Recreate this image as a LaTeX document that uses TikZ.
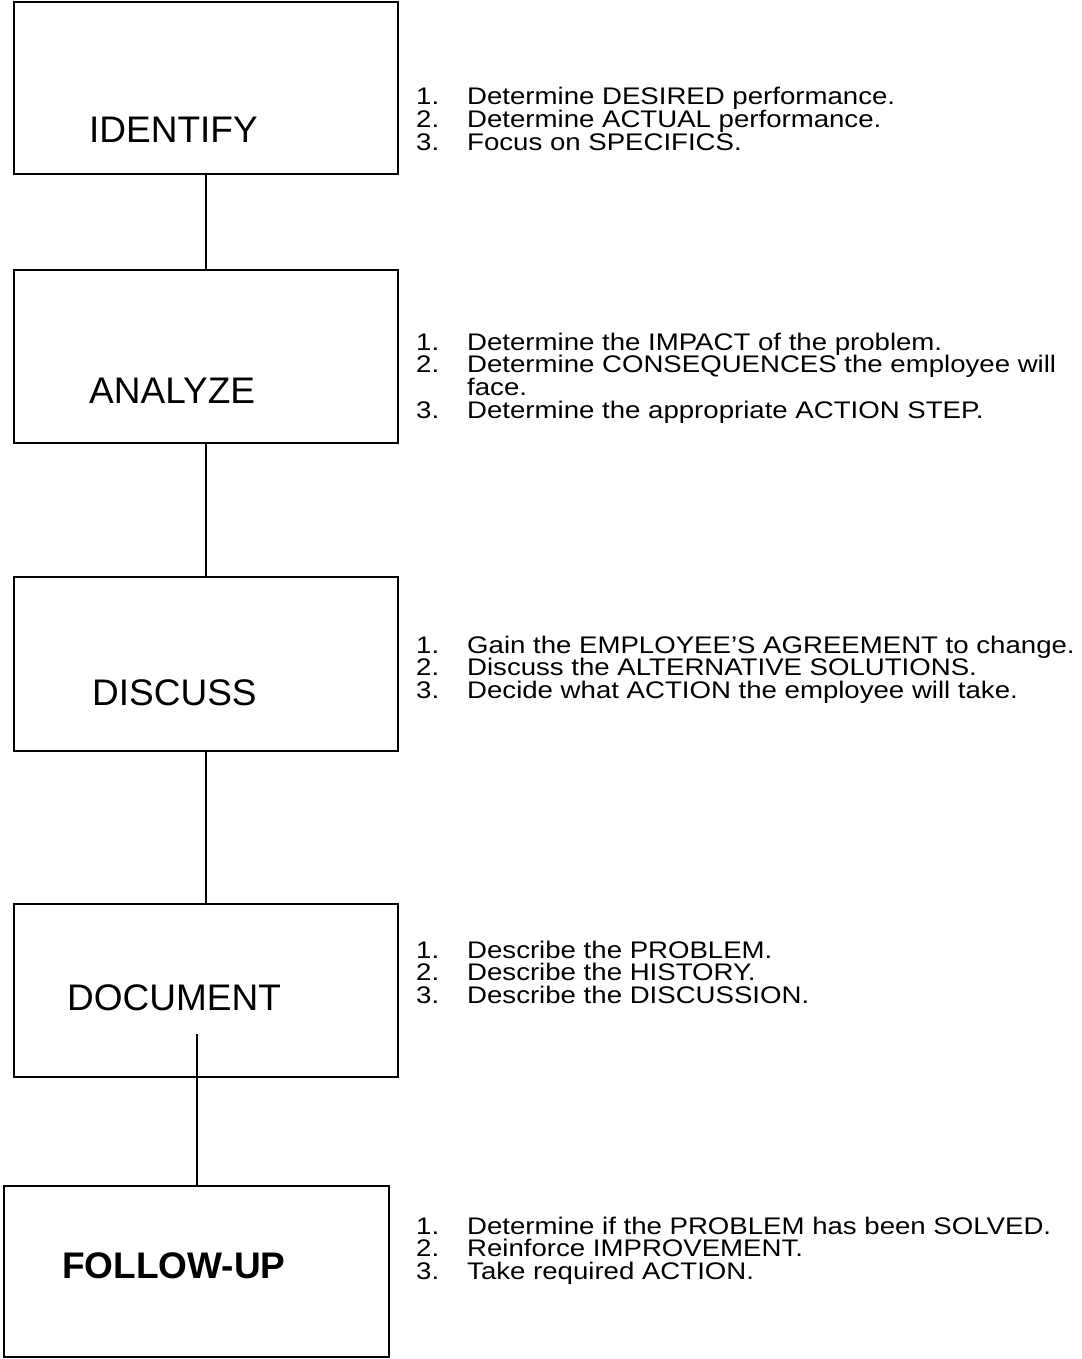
\documentclass[tikz,border=0pt]{standalone}
\usepackage{fontspec}
\setmainfont{Liberation Sans}
\newfontfamily\listfont[FakeStretch=1.15]{Liberation Sans}

\tikzset{
  stepbox/.style={draw=black, line width=2pt, inner sep=0pt, outer sep=0pt,
    anchor=north west, rectangle},
  steplabel/.style={inner sep=0pt, anchor=base west,
    font=\fontsize{37}{44}\selectfont},
  % multi-line list: its base anchor sits on the baseline of the last line
  itemlist/.style={inner sep=0pt, anchor=base west,
    font=\listfont\fontsize{24}{22.8}\selectfont, align=left},
  link/.style={draw=black, line width=2pt}
}

% number column of an action list
\newcommand{\li}[1]{\makebox[51pt][l]{#1}}

\begin{document}
\begin{tikzpicture}[x=1pt, y=-1pt]
  \useasboundingbox (0,0) rectangle (1081,1359);

  % the five step boxes
  \node[stepbox, minimum width=384pt, minimum height=172pt] (bidentify) at (14,2) {};
  \node[stepbox, minimum width=384pt, minimum height=173pt] (banalyze)  at (14,270) {};
  \node[stepbox, minimum width=384pt, minimum height=174pt] (bdiscuss)  at (14,577) {};
  \node[stepbox, minimum width=384pt, minimum height=173pt] (bdocument) at (14,904) {};
  \node[stepbox, minimum width=385pt, minimum height=171pt] (bfollow)   at (4,1186) {};

  % step names
  \node[steplabel] (lidentify) at (89,143)  {IDENTIFY};
  \node[steplabel] (lanalyze)  at (89,403)  {ANALYZE};
  \node[steplabel] (ldiscuss)  at (92,705)  {DISCUSS};
  \node[steplabel] (ldocument) at (67,1010) {DOCUMENT};
  \node[steplabel, font=\fontsize{37}{44}\selectfont\bfseries] (lfollow) at (62,1278) {FOLLOW-UP};

  % connectors
  \draw[link] (bidentify.south) -- (banalyze.north);
  \draw[link] (banalyze.south) -- (bdiscuss.north);
  \draw[link] (bdiscuss.south) -- (bdocument.north);
  \coordinate (docstub) at (197,1034);
  \draw[link] (docstub) -- (docstub |- bfollow.north);

  % action lists
  \node[itemlist] (tidentify) at (416,150.6) {%
    \li{1.}Determine DESIRED performance.\\
    \li{2.}Determine ACTUAL performance.\\
    \li{3.}Focus on SPECIFICS.};
  \node[itemlist] (tanalyze) at (416,418.4) {%
    \li{1.}Determine the IMPACT of the problem.\\
    \li{2.}Determine CONSEQUENCES the employee will\\
    \li{}face.\\
    \li{3.}Determine the appropriate ACTION STEP.};
  \node[itemlist] (tdiscuss) at (416,698.6) {%
    \li{1.}Gain the EMPLOYEE’S AGREEMENT to change.\\
    \li{2.}Discuss the ALTERNATIVE SOLUTIONS.\\
    \li{3.}Decide what ACTION the employee will take.};
  \node[itemlist] (tdocument) at (416,1003.6) {%
    \li{1.}Describe the PROBLEM.\\
    \li{2.}Describe the HISTORY.\\
    \li{3.}Describe the DISCUSSION.};
  \node[itemlist] (tfollow) at (416,1279.6) {%
    \li{1.}Determine if the PROBLEM has been SOLVED.\\
    \li{2.}Reinforce IMPROVEMENT.\\
    \li{3.}Take required ACTION.};
\end{tikzpicture}
\end{document}
